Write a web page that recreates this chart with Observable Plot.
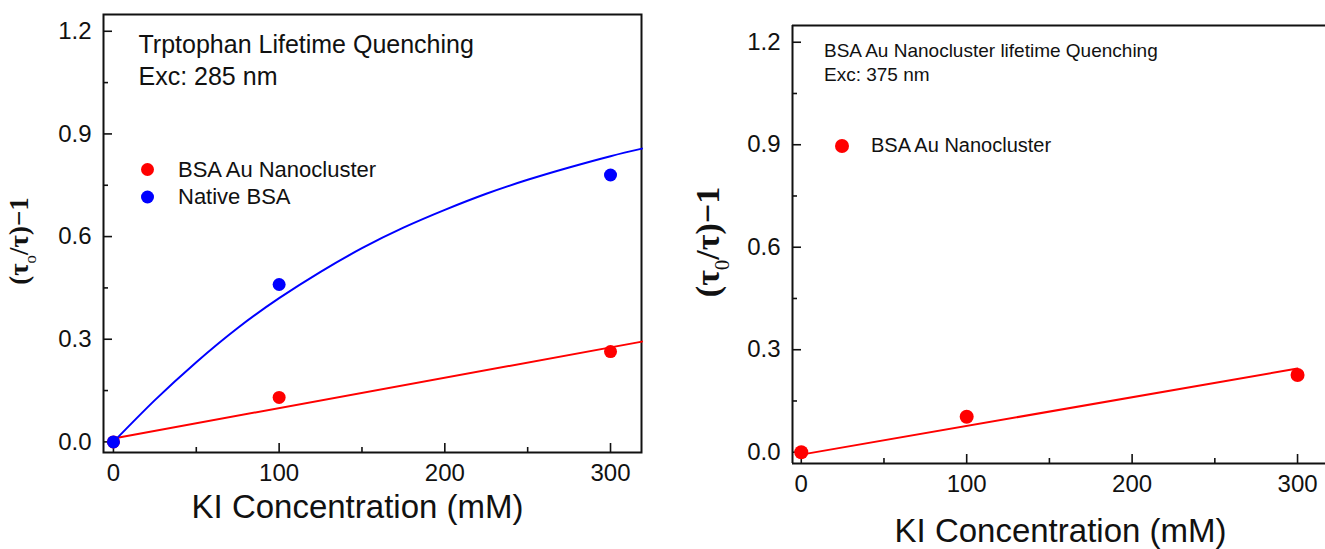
<!DOCTYPE html>
<html><head><meta charset="utf-8">
<script src="https://cdn.jsdelivr.net/npm/d3@7"></script>
<script src="https://cdn.jsdelivr.net/npm/@observablehq/plot@0.6"></script>
<style>
html,body{margin:0;padding:0;background:#fff;overflow:hidden;}
#wrap{position:relative;width:1325px;height:549px;overflow:hidden;}
#left,#right{position:absolute;top:0;}
#left{left:0;} #right{left:660px;}
</style></head><body><div id="wrap"><div id="left"></div><div id="right"></div></div>
<script>
// ---- data ----
const kiConc = [0, 100, 300];
// Panel A: Trptophan lifetime quenching, Exc 285 nm
const trpBsaAu = [0.0, 0.13, 0.264];
const trpNative = [0.0, 0.46, 0.78];
const trpAuFitX = [0, 319];
const trpAuFitY = [0.01, 0.293];
const trpNativeFitX = [0, 25, 50, 75, 100, 125, 150, 175, 200, 225, 250, 275, 300, 319];
const trpNativeFitY = [0.0, 0.122, 0.233, 0.333, 0.42, 0.497, 0.566, 0.626, 0.678, 0.725, 0.766, 0.802, 0.835, 0.857];
// Panel B: BSA Au nanocluster lifetime quenching, Exc 375 nm
const auBsaAu = [0.0, 0.104, 0.226];
const auFitX = [0, 300];
const auFitY = [-0.007, 0.245];
// ticks
const xTicks = [0, 100, 200, 300];
const xMinor = [50, 150, 250];
const yTicks = [0, 0.3, 0.6, 0.9, 1.2];
const yMinor = [0.15, 0.45, 0.75, 1.05];

const RED = "#ff0000", BLUE = "#0000ff", INK = "#111";
const SANS = "'Liberation Sans', Arial, sans-serif";
const SERIF = "'Liberation Serif', 'Times New Roman', serif";

const zip = (xs, ys) => xs.map((x, i) => ({x, y: ys[i]}));

function panel(o) {
  const [ml, mr, mt, mb] = o.margin;
  const fw = o.width - ml - mr, fh = o.height - mt - mb;
  const marks = [];
  // inward ticks (major 9px, minor 5px)
  const tk = {stroke: INK, strokeWidth: 1.6};
  marks.push(Plot.tickX(xTicks, {x: d => d, insetTop: fh - 9, ...tk}));
  marks.push(Plot.tickX(xMinor, {x: d => d, insetTop: fh - 5, ...tk}));
  marks.push(Plot.tickY(yTicks, {y: d => d, insetRight: fw - 9, ...tk}));
  marks.push(Plot.tickY(yMinor, {y: d => d, insetRight: fw - 5, ...tk}));
  if (o.fullFrame) marks.push(Plot.frame({stroke: INK, strokeWidth: 2}));
  else {
    marks.push(Plot.ruleX([o.xDomain[0]], {stroke: INK, strokeWidth: 2}));
    marks.push(Plot.ruleY([o.yDomain[0], o.yDomain[1]], {stroke: INK, strokeWidth: 2}));
  }
  marks.push(Plot.axisX(xTicks, {tickSize: 0, tickPadding: 11, label: null, fontSize: 24, fill: INK, tickFormat: d => String(d)}));
  marks.push(Plot.axisY(yTicks, {tickSize: 0, tickPadding: 12, label: null, fontSize: 24, fill: INK, tickFormat: d3.format(".1f")}));
  // fits
  for (const f of o.fits) marks.push(Plot.line(f.data, {x: "x", y: "y", stroke: f.color, strokeWidth: 2, curve: "natural"}));
  // points
  for (const s of o.series) marks.push(Plot.dot(s.data, {x: "x", y: "y", r: o.r, fill: s.color}));
  // annotations
  for (const a of o.annot) marks.push(Plot.text([a.text], {frameAnchor: "top-left", dx: a.dx, dy: a.dy, text: d => d, textAnchor: "start", lineAnchor: "bottom", fontSize: a.size, fill: INK}));
  for (const l of o.legend) {
    marks.push(Plot.dot([l.text], {frameAnchor: "top-left", dx: l.dotDx, dy: l.dotDy, r: o.r, fill: l.color}));
    marks.push(Plot.text([l.text], {frameAnchor: "top-left", dx: l.textDx, dy: l.textDy, text: d => d, textAnchor: "start", lineAnchor: "bottom", fontSize: l.size, fill: INK}));
  }
  marks.push(Plot.text([o.xTitle], {frameAnchor: "bottom", dx: o.xTitleDx, dy: o.xTitleDy, text: d => d, lineAnchor: "bottom", fontSize: 33, fill: INK}));

  const svg = Plot.plot({
    width: o.width, height: o.height,
    marginLeft: ml, marginRight: mr, marginTop: mt, marginBottom: mb,
    x: {domain: o.xDomain, axis: null},
    y: {domain: o.yDomain, axis: null},
    style: {fontFamily: SANS, fontSize: "24px", background: "#fff", maxWidth: "none", overflow: "visible"},
    marks
  });
  // y title with subscript
  const t = d3.select(svg).append("text")
    .attr("transform", `translate(${o.yTitleX},${o.yTitleY}) rotate(-90)`)
    .attr("text-anchor", "middle")
    .attr("fill", INK)
    .style("font-family", SERIF).style("font-weight", "bold").style("font-size", o.yTitleSize + "px");
  t.append("tspan").text("(τ");
  t.append("tspan").attr("dy", o.yTitleSize * 0.28).style("font-size", (o.yTitleSize * 0.62) + "px").style("font-weight", "normal").text(o.sub);
  t.append("tspan").attr("dy", -o.yTitleSize * 0.28).text("/τ)−1");
  return svg;
}

document.getElementById("left").append(panel({
  width: 660, height: 549, margin: [103, 19, 14, 97],
  xDomain: [-6, 318.7], yDomain: [-0.031, 1.249], fullFrame: true, r: 6.5,
  fits: [
    {data: zip(trpAuFitX, trpAuFitY), color: RED},
    {data: zip(trpNativeFitX, trpNativeFitY), color: BLUE}
  ],
  series: [
    {data: zip(kiConc, trpBsaAu), color: RED},
    {data: zip(kiConc, trpNative), color: BLUE}
  ],
  annot: [
    {text: "Trptophan Lifetime Quenching", dx: 35, dy: 38.5, size: 25},
    {text: "Exc: 285 nm", dx: 35, dy: 70, size: 25}
  ],
  legend: [
    {text: "BSA Au Nanocluster", color: RED, dotDx: 44, dotDy: 155, textDx: 74.5, textDy: 162.5, size: 22},
    {text: "Native BSA", color: BLUE, dotDx: 44, dotDy: 182.5, textDx: 74.5, textDy: 189.5, size: 22}
  ],
  xTitle: "KI Concentration (mM)", xTitleDx: -15, xTitleDy: 65,
  yTitleX: 28, yTitleY: 241, yTitleSize: 27, sub: "o"
}));

document.getElementById("right").append(panel({
  width: 665, height: 549, margin: [132, 0, 25, 86],
  xDomain: [-5.3, 316.9], yDomain: [-0.033, 1.249], fullFrame: false, r: 7,
  fits: [{data: zip(auFitX, auFitY), color: RED}],
  series: [{data: zip(kiConc, auBsaAu), color: RED}],
  annot: [
    {text: "BSA Au Nanocluster lifetime Quenching", dx: 31.5, dy: 31, size: 19},
    {text: "Exc: 375 nm", dx: 31.5, dy: 55, size: 19}
  ],
  legend: [
    {text: "BSA Au Nanocluster", color: RED, dotDx: 49.5, dotDy: 120.5, textDx: 78.5, textDy: 126.7, size: 20}
  ],
  xTitle: "KI Concentration (mM)", xTitleDx: 1.5, xTitleDy: 78,
  yTitleX: 59, yTitleY: 242, yTitleSize: 34, sub: "0"
}));
</script></body></html>
